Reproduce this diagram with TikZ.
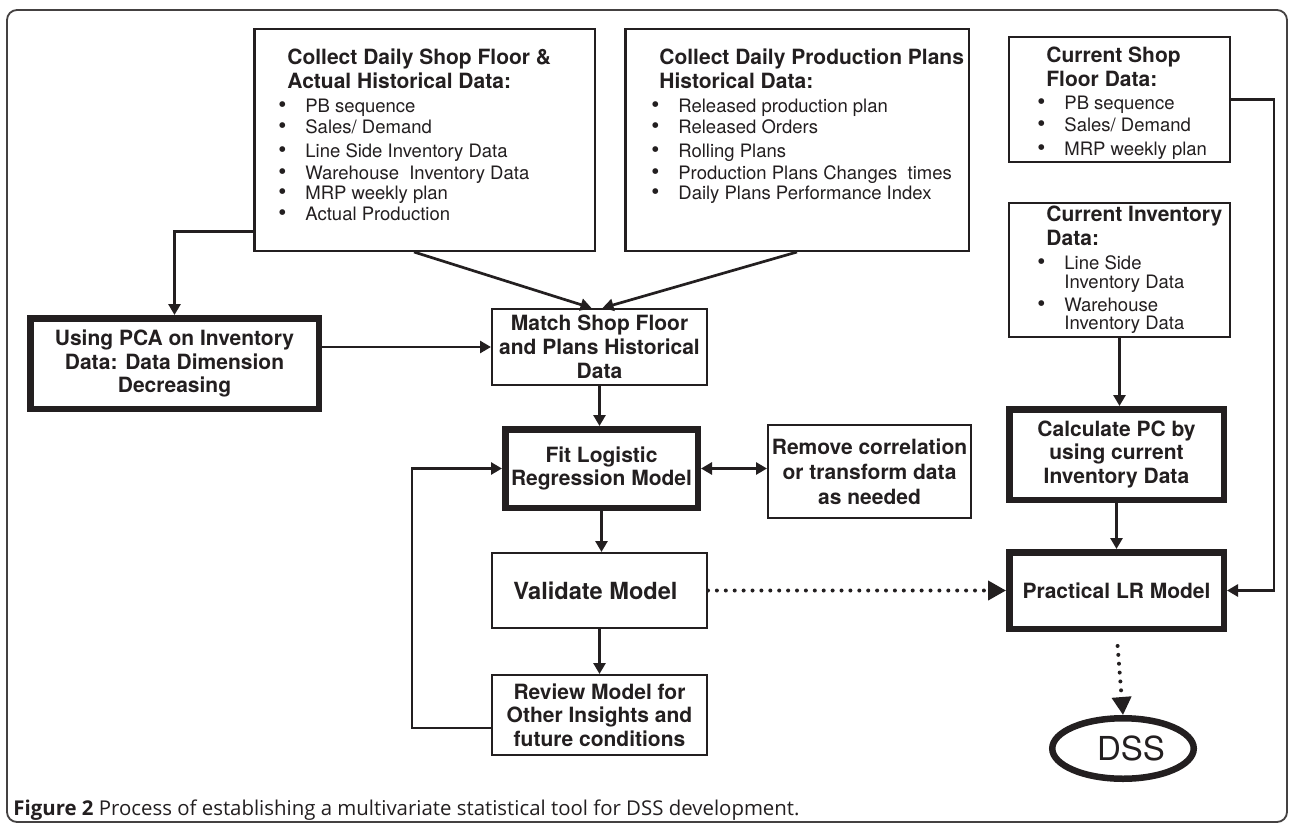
\documentclass[tikz,border=0pt]{standalone}
\usepackage{fontspec}
\setmainfont{TeX Gyre Heros}
\newfontfamily\capfont{Open Sans}
\usetikzlibrary{arrows.meta,shapes.geometric}
\definecolor{ink}{RGB}{35,31,32}
\newcommand\bul{\makebox[0pt][r]{{\fontsize{11.5}{11.5}\selectfont\textbullet}\hspace{9.5pt}}}
\begin{document}
\begin{tikzpicture}[x=0.5pt,y=-0.5pt,
  box/.style={draw=ink, line width=1.15pt, inner sep=0pt, align=center, text=ink, font=\bfseries\fontsize{10.5}{11.75}\selectfont},
  bigbox/.style={box, line width=1.25pt},
  heavybox/.style={box, line width=3.25pt},
  ttl/.style={anchor=base west, inner sep=0pt, text=ink, font=\bfseries\fontsize{10.5}{12}\selectfont},
  itm/.style={anchor=base west, inner sep=0pt, text=ink, font=\fontsize{9.25}{11}\selectfont},
  conn/.style={draw=ink, line width=1.35pt, -{Triangle[length=5.5pt,width=6pt]}},
  dotconn/.style={draw=ink, line width=2pt, line cap=round, dash pattern=on 0pt off 4.45pt, -{Triangle[length=9pt,width=9.5pt]}}
]
\fill[white] (0,0) rectangle (1290,824);
\useasboundingbox (0,0) rectangle (1290,824);
\draw[draw=ink!85, line width=0.9pt, rounded corners=5pt] (7,10) rectangle (1287,822);

% Box A
\node[bigbox, minimum width=170.25pt, minimum height=110.75pt] (A) at (424.5,140) {};
\node[ttl] (A1) at (287,64.5) {Collect Daily Shop Floor \&};
\node[ttl] (A2) at (287,88.5) {Actual Historical Data:};
\node[itm] (A3) at (305,112.5) {\bul PB sequence};
\node[itm] (A4) at (305,133.5) {\bul Sales/ Demand};
\node[itm] (A5) at (305,157.5) {\bul Line Side Inventory Data};
\node[itm] (A6) at (305,179.5) {\bul Warehouse\ \ Inventory Data};
\node[itm] (A7) at (305,199.5) {\bul MRP weekly plan};
\node[itm] (A8) at (305,220.5) {\bul Actual Production};

% Box B
\node[bigbox, minimum width=171.75pt, minimum height=110.75pt] (B) at (797,140) {};
\node[ttl] (B1) at (659,64.5) {Collect Daily Production Plans};
\node[ttl] (B2) at (659,88.5) {Historical Data:};
\node[itm] (B3) at (678,112.5) {\bul Released production plan};
\node[itm] (B4) at (678,133.5) {\bul Released Orders};
\node[itm] (B5) at (678,157.5) {\bul Rolling Plans};
\node[itm] (B6) at (678,179.5) {\bul Production Plans Changes\ \ times};
\node[itm] (B7) at (678,199.5) {\bul Daily Plans Performance Index};

% Current shop floor
\node[box, minimum width=110.35pt, minimum height=62.35pt] (S) at (1119.5,99.5) {};
\node[ttl] (S1) at (1046,62.5) {Current Shop};
\node[ttl] (S2) at (1046,86.5) {Floor Data:};
\node[itm] (S3) at (1064,109.5) {\bul PB sequence};
\node[itm] (S4) at (1064,131.5) {\bul Sales/ Demand};
\node[itm] (S5) at (1064,155.5) {\bul MRP weekly plan};

% Current inventory
\node[box, minimum width=110.35pt, minimum height=66.85pt] (I) at (1119.5,270) {};
\node[ttl] (I1) at (1046,221.5) {Current Inventory};
\node[ttl] (I2) at (1046,245.5) {Data:};
\node[itm] (I3) at (1064,269.5) {\bul Line Side};
\node[itm] (I4) at (1064,288.5) {Inventory Data};
\node[itm] (I5) at (1064,311.5) {\bul Warehouse};
\node[itm] (I6) at (1064,329.5) {Inventory Data};

% Process boxes
\node[heavybox, minimum width=144.25pt, minimum height=45.25pt] (P) at (174.5,363.5) {Using PCA on Inventory\\Data: Data Dimension\\Decreasing};
\node[box, minimum width=107.35pt, minimum height=37.85pt, font=\bfseries\fontsize{10.5}{12}\selectfont] (M) at (599.5,347) {Match Shop Floor\\and Plans Historical\\Data};
\node[heavybox, minimum width=96.25pt, minimum height=39.25pt, font=\bfseries\fontsize{10.5}{11.5}\selectfont] (F) at (601.5,468.5) {Fit Logistic\\Regression Model};
\node[box, minimum width=101.35pt, minimum height=46.35pt, font=\bfseries\fontsize{10.5}{12.5}\selectfont] (R) at (869.5,471.5) {Remove correlation\\or transform data\\as needed};
\node[box, minimum width=107.35pt, minimum height=37.35pt, font=\bfseries\fontsize{11.8}{14}\selectfont] (V) at (599.5,590.5) {Validate Model\hspace*{4pt}};
\node[box, minimum width=107.35pt, minimum height=39.85pt] (W) at (599.5,715) {Review Model for\\Other Insights and\\future conditions};
\node[heavybox, minimum width=107.25pt, minimum height=45.25pt] (C) at (1116.5,454.5) {Calculate PC by\\using current\\Inventory Data};
\node[heavybox, minimum width=107.25pt, minimum height=38.25pt] (L) at (1116.5,590.5) {Practical LR Model};
\node[ellipse, draw=ink, line width=3.25pt, inner sep=0pt, minimum width=70.75pt, minimum height=30.25pt, text=ink, font=\fontsize{16.5}{18}\selectfont] (D) at (1123,748.5) {\hspace*{8pt}DSS};

% Connectors
\coordinate (fbx) at (412,0);
\coordinate (rx) at (1274,0);
\draw[conn] ([yshift=10.4pt]A.south west) -| (P.north);
\draw[conn] ([xshift=-5.25pt]A.south) -- ([xshift=-4pt]M.north);
\draw[conn] (B.south) -- ([xshift=1.5pt]M.north);
\draw[conn] (P.east |- M.west) -- (M.west);
\draw[conn] (M.south) -- (M.south |- F.north);
\draw[conn, {Triangle[length=5.5pt,width=6pt]}-{Triangle[length=5.5pt,width=6pt]}] (F.east) -- (F.east -| R.west);
\draw[conn] (F.south) -- (F.south |- V.north);
\draw[conn] (V.south) -- (W.north);
\draw[conn] ([yshift=-6.5pt]W.west) -- ([yshift=-6.5pt]W.west -| fbx) -- (fbx |- F.west) -- (F.west);
\draw[dotconn] (V.east) -- (L.west);
\draw[conn] (S.east) -- (S.east -| rx) -- (rx |- L.east) -- (L.east);
\draw[conn] (I.south) -- (I.south |- C.north);
\draw[conn] (C.south) -- (L.north);
\draw[dotconn, shorten <=7pt] (L.south) -- (D.north);

% Caption
\node[anchor=base west, inner sep=0pt, text=ink, font=\capfont\fontsize{10.2}{12}\selectfont] (cap) at (13,815) {\textbf{Figure 2} Process of establishing a multivariate statistical tool for DSS development.};
\end{tikzpicture}
\end{document}
